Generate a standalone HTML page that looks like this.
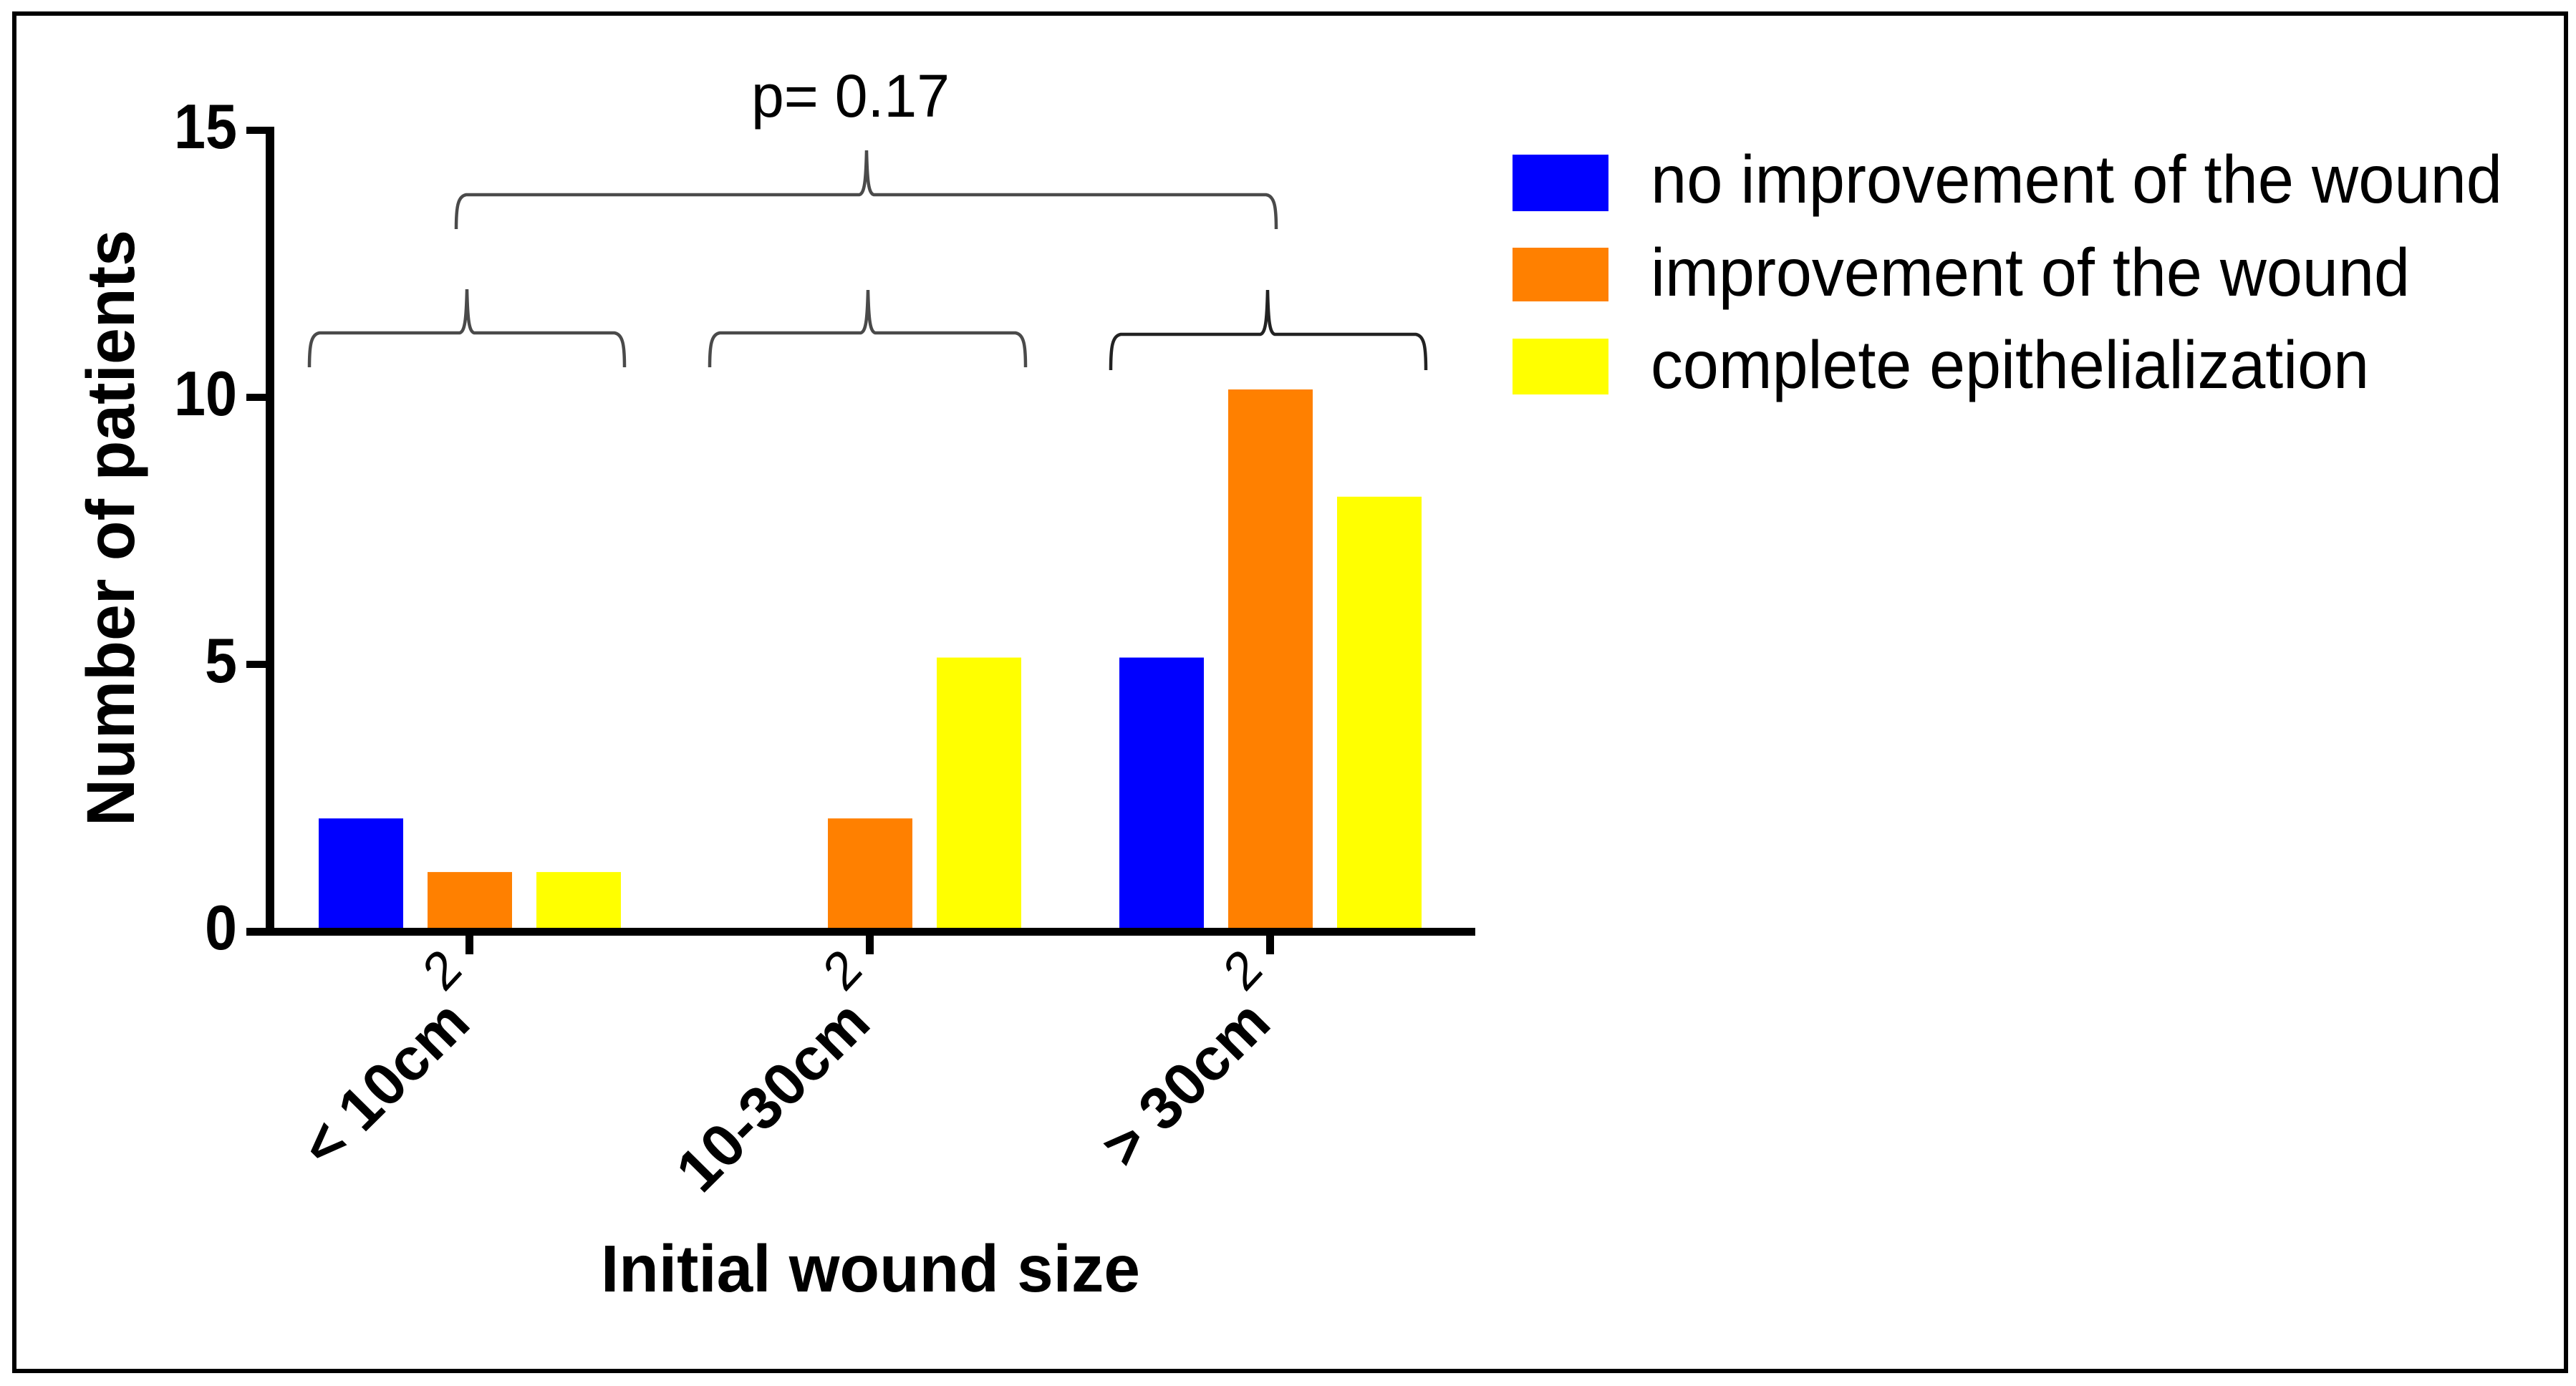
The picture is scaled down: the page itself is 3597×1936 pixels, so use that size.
<!DOCTYPE html>
<html lang="en">
<head>
<meta charset="utf-8">
<title>Number of patients by initial wound size</title>
<style>
html,body{margin:0;padding:0;background:#fff;}
svg{display:block;}
text{font-family:"Liberation Sans",Arial,sans-serif;fill:#000;}
.b{font-weight:700;}
</style>
</head>
<body>
<svg id="chart" xmlns="http://www.w3.org/2000/svg" width="3597" height="1936" viewBox="0 0 3597 1936">
  <rect x="0" y="0" width="3597" height="1936" fill="#fff"/>
  <rect x="20" y="19" width="3563" height="1896" fill="none" stroke="#000" stroke-width="6"/>
  <g id="bars"></g>
  <g id="axes"></g>
  <g id="braces"></g>
  <text x="1049" y="163" font-size="84" textLength="277" lengthAdjust="spacingAndGlyphs">p= 0.17</text>
  <text class="b" transform="translate(187,1154) rotate(-90)" font-size="95" textLength="833" lengthAdjust="spacingAndGlyphs">Number of patients</text>
  <text class="b" x="839" y="1804" font-size="93" textLength="753" lengthAdjust="spacingAndGlyphs">Initial wound size</text>
  <g id="legend"></g>
</svg>
<script>
const categories = ['< 10cm', '10-30cm', '> 30cm'];
const seriesNames = ['no improvement of the wound', 'improvement of the wound', 'complete epithelialization'];
const noImprovement = [2, 0, 5];
const improvement = [1, 2, 10];
const epithelialization = [1, 5, 8];
const yTicks = [0, 5, 10, 15];
const seriesValues = [noImprovement, improvement, epithelialization];

const NS = 'http://www.w3.org/2000/svg';
const colors = ['#0000ff', '#ff8000', '#ffff00'];
const legendWidths = [1189, 1060, 1003];

const axisLeft = 377, axisRight = 2060, zeroY = 1301, unitY = 74.6;
const barBase = 1296, barOrigin = 1293, barUnit = 74.9;
const firstTick = 656, tickStep = 559;
const barWidth = 118, barStep = 152;

function yScale(v) { return zeroY - unitY * v; }
function barTop(v) { return barOrigin - barUnit * v; }
function xScale(i) { return firstTick + tickStep * i; }

function make(tag, attrs, parent, txt) {
  const el = document.createElementNS(NS, tag);
  for (const k in attrs) el.setAttribute(k, attrs[k]);
  if (txt !== undefined) el.textContent = txt;
  parent.appendChild(el);
  return el;
}

const barsG = document.getElementById('bars');
const axesG = document.getElementById('axes');
const bracesG = document.getElementById('braces');
const legendG = document.getElementById('legend');

seriesValues.forEach(function (vals, s) {
  vals.forEach(function (v, c) {
    if (v <= 0) return;
    const x = xScale(c) + (s - 1) * barStep - barWidth / 2;
    const top = barTop(v);
    const bar = make('rect', { x: x, y: top, width: barWidth, height: barBase - top, fill: colors[s] }, barsG);
    
    
  });
});

const yLine = make('rect', { x: axisLeft - 6, y: yScale(15) - 5, width: 12, height: zeroY - yScale(15) + 5, fill: '#000' }, axesG);



const xLine = make('rect', { x: 344, y: 1296, width: axisRight - 344, height: 11, fill: '#000' }, axesG);



yTicks.forEach(function (t) {
  const y = yScale(t);
  if (t !== 0) {
    const tick = make('rect', { x: 344, y: y - 5, width: 30, height: 10, fill: '#000' }, axesG);
    
    
  }
  const w = String(t).length === 2 ? 88 : 45;
  const label = make('text', { x: 331 - w, y: y + 25, 'font-size': 88, 'class': 'b', textLength: w, lengthAdjust: 'spacingAndGlyphs' }, axesG, String(t));
  
  
});

categories.forEach(function (name, i) {
  const x = xScale(i);
  const tick = make('rect', { x: x - 6, y: 1305, width: 11, height: 28, fill: '#000' }, axesG);
  
  

  const label = make('text', {
    transform: 'translate(' + (x + 4) + ',1433) scale(0.96,0.95) rotate(-45)',
    'text-anchor': 'end', 'font-size': 88, 'class': 'b'
  }, axesG, name);
  
  

  const sup = make('text', {
    transform: 'translate(' + (x - 22) + ',1373) scale(0.92,1) rotate(-45)',
    'font-size': 76, 'text-anchor': 'middle'
  }, axesG, '2');
  
  
});

function bracePath(l, r, c, tip, line, end) {
  const d = 14;
  return 'M' + l + ' ' + end +
    ' C' + l + ' ' + (line + 18) + ' ' + (l + 2) + ' ' + (line + 2) + ' ' + (l + d) + ' ' + line +
    ' L' + (c - 10) + ' ' + line +
    ' C' + (c - 3) + ' ' + (line - 2) + ' ' + (c - 1) + ' ' + (line - 18) + ' ' + c + ' ' + tip +
    ' C' + (c + 1) + ' ' + (line - 18) + ' ' + (c + 3) + ' ' + (line - 2) + ' ' + (c + 10) + ' ' + line +
    ' L' + (r - d) + ' ' + line +
    ' C' + (r - 2) + ' ' + (line + 2) + ' ' + r + ' ' + (line + 18) + ' ' + r + ' ' + end;
}
const overallBrace = make('path', { d: bracePath(637, 1782, 1210, 210, 272, 320), fill: 'none', stroke: '#4a4a4a', 'stroke-width': 4.5 }, bracesG);


const brace1 = make('path', { d: bracePath(432, 872, 652, 404, 465, 513), fill: 'none', stroke: '#4a4a4a', 'stroke-width': 4.5 }, bracesG);


const brace2 = make('path', { d: bracePath(991, 1432, 1212, 405, 465, 513), fill: 'none', stroke: '#4a4a4a', 'stroke-width': 4.5 }, bracesG);


const brace3 = make('path', { d: bracePath(1551, 1991, 1770, 405, 467, 517), fill: 'none', stroke: '#222', 'stroke-width': 4.5 }, bracesG);



const swatchTops = [216, 346, 473];
const swatchHeights = [79, 75, 78];
const baselines = [283, 413, 542];
seriesNames.forEach(function (name, i) {
  const sw = make('rect', { x: 2112, y: swatchTops[i], width: 134, height: swatchHeights[i], fill: colors[i] }, legendG);
  
  
  const t = make('text', { x: 2305, y: baselines[i], 'font-size': 95, textLength: legendWidths[i], lengthAdjust: 'spacingAndGlyphs' }, legendG, name);
  
  
});
</script>
</body>
</html>
